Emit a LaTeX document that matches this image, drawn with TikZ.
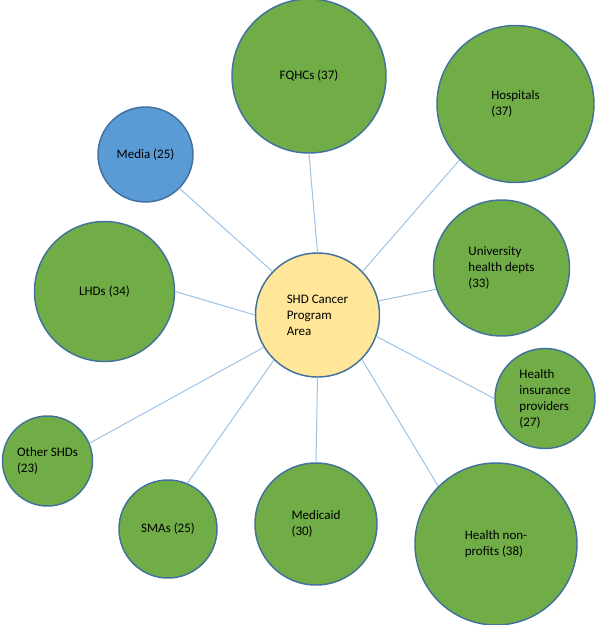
\documentclass[tikz,border=0pt]{standalone}
\usepackage{fontspec}
\setmainfont{Carlito}
\usepackage{tikz}
\definecolor{rim}{HTML}{41719C}
\definecolor{wire}{HTML}{9DC3E6}
\definecolor{leaf}{HTML}{70AD47}
\definecolor{media}{HTML}{5B9BD5}
\definecolor{hub}{HTML}{FFE699}
\tikzset{
  bubble/.style={circle,draw=rim,line width=1.1pt,inner sep=0pt,minimum size=#1*1.5pt,
    align=left,font=\fontsize{9.75}{12}\selectfont,text=black},
  partner/.style={bubble=#1,fill=leaf},
  link/.style={draw=wire,line width=.75pt},
}
\begin{document}
\begin{tikzpicture}[x=.75pt,y=-.75pt]
  % Coordinates are in pixels of the 598 x 625 layout, y grows downward.
  \useasboundingbox (0,0) rectangle (598,625);

  % Hub in the middle.
  \node[bubble=62,fill=hub] (ctr) at (317.5,315) {SHD Cancer\\Program\\Area};

  % Partner bubbles, clockwise from the top; the size follows the count.
  \node[partner=77] (fqhc) at (309,76) {FQHCs (37)};
  \node[partner=78.5] (hosp) at (515.5,104) {Hospitals\\(37)};
  \node[partner=68] (uni) at (501.5,268) {University\\health depts\\(33)};
  \node[partner=50] (ins) at (545,398.5) {Health\\insurance\\providers\\(27)};
  \node[partner=81] (np) at (496,544) {Health non-\\profits (38)};
  \node[partner=61] (med) at (316,524) {Medicaid\\(30)};
  \node[partner=49] (sma) at (168,529) {SMAs (25)};
  \node[partner=45] (oth) at (47.5,461) {Other SHDs\\(23)};
  \node[partner=70] (lhd) at (104.5,291.5) {LHDs (34)};
  \node[bubble=47.5,fill=media] (med2) at (145.5,154.5) {Media (25)};

  % Spokes from the hub.
  \draw[link] (ctr.north) -- (fqhc.south);
  \draw[link] (ctr.44) -- (hosp.225);
  \draw[link] (ctr.13) -- (uni.198);
  \draw[link] (ctr.340) -- (ins.west);
  \draw[link] (ctr.315) -- (np.135);
  \draw[link] (ctr.south) -- (med.north);
  \draw[link] (ctr.226) -- (sma.67);
  \draw[link] (ctr.211) -- (oth.23);
  \draw[link] (ctr.west) -- (lhd.east);
  \draw[link] (ctr.136) -- (med2.315);
\end{tikzpicture}
\end{document}
